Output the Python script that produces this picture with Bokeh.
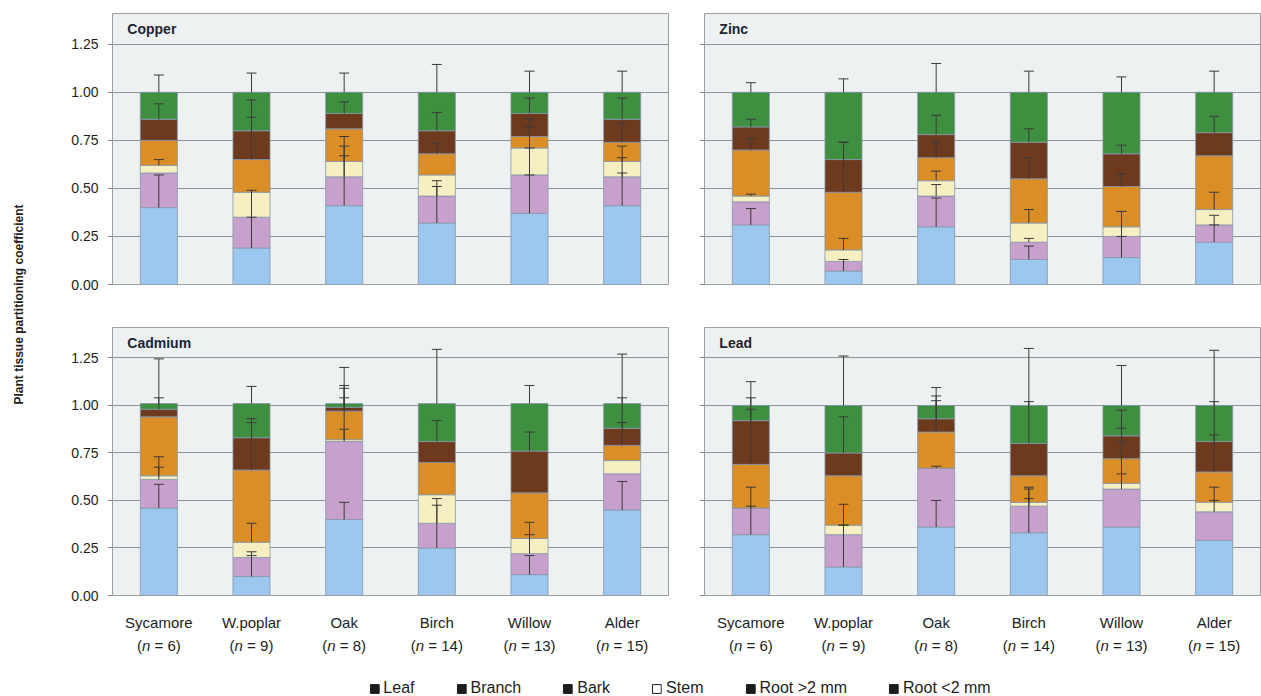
import math

from bokeh.core.properties import value
from bokeh.embed import file_html
from bokeh.layouts import column, row
from bokeh.models import (ColumnDataSource, CustomJSTickFormatter, FactorRange, FixedTicker,
                          Label, Legend, LegendItem, NumeralTickFormatter, Range1d, TeeHead,
                          Whisker)
from bokeh.plotting import figure
from bokeh.resources import INLINE

# ---------------------------------------------------------------- data
species = ["Sycamore", "W.poplar", "Oak", "Birch", "Willow", "Alder"]
sample_sizes = [6, 9, 8, 14, 13, 15]

# stacked from the ground up
tissue_keys = ["root_fine", "root_coarse", "stem", "bark", "branch", "leaf"]
tissue_names = ["Root <2 mm", "Root >2 mm", "Stem", "Bark", "Branch", "Leaf"]
tissue_colors = ["#9cc7ee", "#c8a0cc", "#f6efc1", "#db8d26", "#6e3a1e", "#3e8f3f"]

y_ticks = [0.0, 0.25, 0.5, 0.75, 1.0, 1.25]

# mean partitioning coefficient of each tissue, per species
copper = {
    "root_fine":   [0.40, 0.19, 0.41, 0.32, 0.37, 0.41],
    "root_coarse": [0.18, 0.16, 0.15, 0.14, 0.20, 0.15],
    "stem":        [0.04, 0.13, 0.08, 0.11, 0.14, 0.08],
    "bark":        [0.13, 0.17, 0.17, 0.11, 0.06, 0.10],
    "branch":      [0.11, 0.15, 0.08, 0.12, 0.12, 0.12],
    "leaf":        [0.14, 0.20, 0.11, 0.20, 0.11, 0.14],
}
copper_err = {
    "root_fine":   [0.17, 0.16, 0.31, 0.19, 0.20, 0.17],
    "root_coarse": [0.00, 0.14, 0.21, 0.08, 0.14, 0.10],
    "stem":        [0.03, 0.00, 0.03, 0.00, 0.11, 0.08],
    "bark":        [0.00, 0.22, 0.00, 0.055, 0.09, 0.10],
    "branch":      [0.08, 0.16, 0.06, 0.095, 0.08, 0.11],
    "leaf":        [0.09, 0.10, 0.10, 0.145, 0.11, 0.11],
}

zinc = {
    "root_fine":   [0.31, 0.07, 0.30, 0.13, 0.14, 0.22],
    "root_coarse": [0.12, 0.05, 0.16, 0.09, 0.11, 0.09],
    "stem":        [0.03, 0.06, 0.08, 0.10, 0.05, 0.08],
    "bark":        [0.24, 0.30, 0.12, 0.23, 0.21, 0.28],
    "branch":      [0.12, 0.17, 0.12, 0.19, 0.17, 0.12],
    "leaf":        [0.18, 0.35, 0.22, 0.26, 0.32, 0.21],
}
zinc_err = {
    "root_fine":   [0.085, 0.06, 0.15, 0.07, 0.11, 0.09],
    "root_coarse": [0.00, 0.00, 0.06, 0.02, 0.13, 0.05],
    "stem":        [0.01, 0.06, 0.05, 0.07, 0.08, 0.09],
    "bark":        [0.06, 0.26, 0.08, 0.11, 0.065, 0.00],
    "branch":      [0.04, 0.09, 0.10, 0.07, 0.045, 0.085],
    "leaf":        [0.05, 0.07, 0.15, 0.11, 0.08, 0.11],
}

cadmium = {
    "root_fine":   [0.46, 0.10, 0.40, 0.25, 0.11, 0.45],
    "root_coarse": [0.15, 0.10, 0.41, 0.13, 0.11, 0.19],
    "stem":        [0.02, 0.08, 0.01, 0.15, 0.08, 0.07],
    "bark":        [0.31, 0.38, 0.15, 0.17, 0.24, 0.08],
    "branch":      [0.04, 0.17, 0.02, 0.11, 0.22, 0.09],
    "leaf":        [0.03, 0.18, 0.02, 0.20, 0.25, 0.13],
}
cadmium_err = {
    "root_fine":   [0.125, 0.11, 0.09, 0.225, 0.10, 0.15],
    "root_coarse": [0.065, 0.03, 0.23, 0.13, 0.10, 0.00],
    "stem":        [0.10, 0.10, 0.055, 0.00, 0.085, 0.00],
    "bark":        [0.00, 0.25, 0.12, 0.00, 0.00, 0.25],
    "branch":      [0.06, 0.10, 0.115, 0.11, 0.10, 0.03],
    "leaf":        [0.235, 0.09, 0.19, 0.285, 0.095, 0.26],
}

lead = {
    "root_fine":   [0.32, 0.15, 0.36, 0.33, 0.36, 0.29],
    "root_coarse": [0.14, 0.17, 0.31, 0.14, 0.20, 0.15],
    "stem":        [0.00, 0.05, 0.00, 0.02, 0.03, 0.05],
    "bark":        [0.23, 0.26, 0.19, 0.14, 0.13, 0.16],
    "branch":      [0.23, 0.12, 0.07, 0.17, 0.12, 0.16],
    "leaf":        [0.08, 0.25, 0.07, 0.20, 0.16, 0.19],
}
lead_err = {
    "root_fine":   [0.15, 0.22, 0.14, 0.18, 0.00, 0.00],
    "root_coarse": [0.11, 0.05, 0.01, 0.10, 0.08, 0.06],
    "stem":        [0.00, 0.11, 0.00, 0.07, 0.22, 0.08],
    "bark":        [0.35, 0.00, 0.165, 0.00, 0.16, 0.195],
    "branch":      [0.06, 0.19, 0.12, 0.22, 0.135, 0.21],
    "leaf":        [0.125, 0.26, 0.094, 0.30, 0.21, 0.29],
}

# ---------------------------------------------------------------- style
FONT = "Liberation Sans"
TEXT = "#1e1e1e"
FRAME = "#98a0a2"
GRID = "#8c9294"
PANEL_BG = "#eef1f1"
BAR_EDGE = "#8797ab"
ERR = "#3a3a3a"
FRAME_W = 556


def make_panel(title, parts, errs, left, bottom, frame_h, borders):
    p = figure(x_range=FactorRange(*species), y_range=Range1d(0, 1.41),
               frame_width=FRAME_W, frame_height=frame_h,
               output_backend="svg", toolbar_location=None,
               background_fill_color=PANEL_BG, border_fill_color="white",
               outline_line_color=FRAME, outline_line_width=1, **borders)

    src = ColumnDataSource(dict(species=species, **parts))
    p.vbar_stack(tissue_keys, x="species", width=0.4, color=tissue_colors,
                 line_color=BAR_EDGE, line_width=0.8, source=src)

    # upward error bar from the top of every segment
    wx, lo, hi = [], [], []
    running = [0.0] * len(species)
    for key in tissue_keys:
        for i, sp in enumerate(species):
            running[i] += parts[key][i]
            if errs[key][i] > 0:
                wx.append(sp)
                lo.append(running[i])
                hi.append(running[i] + errs[key][i])
    wsrc = ColumnDataSource(dict(x=wx, lower=lo, upper=hi))
    p.add_layout(Whisker(base="x", lower="lower", upper="upper", source=wsrc,
                         level="annotation", line_color=ERR, line_width=1,
                         upper_head=TeeHead(size=10, line_color=ERR, line_width=1),
                         lower_head=None))

    p.xgrid.visible = False
    p.ygrid.ticker = FixedTicker(ticks=y_ticks)
    p.ygrid.grid_line_color = GRID
    p.ygrid.grid_line_width = 1

    ax = p.yaxis[0]
    ax.ticker = FixedTicker(ticks=y_ticks)
    ax.minor_tick_line_color = None
    ax.major_tick_in = 0
    ax.major_tick_out = 5
    ax.major_tick_line_color = GRID
    ax.axis_line_color = FRAME
    if left:
        ax.formatter = NumeralTickFormatter(format="0.00")
        ax.major_label_standoff = 9
        ax.major_label_text_font = FONT
        ax.major_label_text_font_size = "14px"
        ax.major_label_text_color = TEXT
    else:
        ax.formatter = CustomJSTickFormatter(code="return ''")
        ax.major_label_standoff = 0

    xa = p.xaxis[0]
    if bottom:
        xa.major_tick_line_color = None
        xa.axis_line_color = FRAME
        xa.major_label_standoff = 12
        xa.major_label_text_font = FONT
        xa.major_label_text_font_size = "15px"
        xa.major_label_text_color = TEXT
    else:
        xa.visible = False

    p.add_layout(Label(x=0.16, y=1.33, text=title, text_align="left",
                       text_baseline="middle", text_font=FONT,
                       text_font_size="14px", text_font_style="bold",
                       text_color="#1d2533"))
    return p


def make_n_strip(x_range, borders):
    """Row of '(n = ..)' captions under a bottom panel, with an italic n."""
    s = figure(x_range=x_range, y_range=Range1d(0, 1), frame_width=FRAME_W,
               frame_height=26, output_backend="svg", toolbar_location=None,
               outline_line_color=None, background_fill_color="white",
               border_fill_color="white", min_border_top=0, min_border_bottom=0,
               **borders)
    s.axis.visible = False
    s.grid.visible = False
    fs = 15
    plain = dict(x=[], text=[], off=[])
    slanted = dict(x=[], text=[], off=[])
    for sp, n in zip(species, sample_sizes):
        digits = len(str(n))
        total = (0.333 + 0.556 + 1.14 + 0.556 * digits + 0.333) * fs
        start = -total / 2
        plain["x"] += [sp, sp]
        plain["text"] += ["(", f"= {n})"]
        plain["off"] += [start, start + (0.333 + 0.556 + 0.278) * fs]
        slanted["x"].append(sp)
        slanted["text"].append("n")
        slanted["off"].append(start + 0.333 * fs)
    for data, style in ((plain, "normal"), (slanted, "italic")):
        s.text(x="x", y=0.54, text="text", x_offset="off",
               source=ColumnDataSource(data), text_align="left",
               text_baseline="middle", text_font=value(FONT),
               text_font_size=f"{fs}px", text_font_style=style, text_color=TEXT)
    return s


LEFT_COL = dict(min_border_left=72, min_border_right=18)
RIGHT_COL = dict(min_border_left=18, min_border_right=1)

p_cu = make_panel("Copper", copper, copper_err, True, False, 271,
                  dict(min_border_top=13, min_border_bottom=22, **LEFT_COL))
p_zn = make_panel("Zinc", zinc, zinc_err, False, False, 271,
                  dict(min_border_top=13, min_border_bottom=22, **RIGHT_COL))
p_cd = make_panel("Cadmium", cadmium, cadmium_err, True, True, 268,
                  dict(min_border_top=21, min_border_bottom=36, **LEFT_COL))
p_pb = make_panel("Lead", lead, lead_err, False, True, 268,
                  dict(min_border_top=21, min_border_bottom=36, **RIGHT_COL))
n_left = make_n_strip(p_cd.x_range, LEFT_COL)
n_right = make_n_strip(p_pb.x_range, RIGHT_COL)

# shared y-axis title, centred across both rows
side = figure(width=40, height=657, x_range=Range1d(0, 40), y_range=Range1d(0, 657),
              output_backend="svg", toolbar_location=None, min_border=0,
              outline_line_color=None, background_fill_color="white",
              border_fill_color="white")
side.axis.visible = False
side.grid.visible = False
side.add_layout(Label(x=18, y=657 - 304, text="Plant tissue partitioning coefficient",
                      angle=math.pi / 2, text_align="center", text_baseline="middle",
                      text_font=FONT, text_font_size="12px",
                      text_font_style="bold", text_color=TEXT))

# legend strip
leg = figure(width=1261, height=39, x_range=Range1d(0, 1), y_range=Range1d(0, 1),
             output_backend="svg", toolbar_location=None,
             min_border_left=98, min_border_right=0, min_border_top=21,
             min_border_bottom=2, outline_line_color=None,
             background_fill_color="white", border_fill_color="white")
leg.axis.visible = False
leg.grid.visible = False
legend_order = ["Leaf", "Branch", "Bark", "Stem", "Root >2 mm", "Root <2 mm"]
items = []
for name in legend_order:
    fill = "white" if name == "Stem" else "#1c1c1c"
    r = leg.quad(left=[-5], right=[-4], bottom=[-5], top=[-4],
                 fill_color=fill, line_color="#1c1c1c", line_width=1)
    items.append(LegendItem(label=name, renderers=[r]))
legend = Legend(items=items, orientation="horizontal", location="center",
                spacing=41, label_standoff=4, glyph_width=11, glyph_height=11,
                label_height=14, padding=0, margin=0, border_line_color=None,
                background_fill_alpha=0, label_text_font=FONT,
                label_text_font_size="16px", label_text_color=TEXT)
leg.add_layout(legend, "center")

grid_block = column(row(p_cu, p_zn), row(p_cd, p_pb), row(n_left, n_right))
layout = column(row(side, grid_block), leg)

open("out.html", "w").write(file_html(layout, INLINE))
